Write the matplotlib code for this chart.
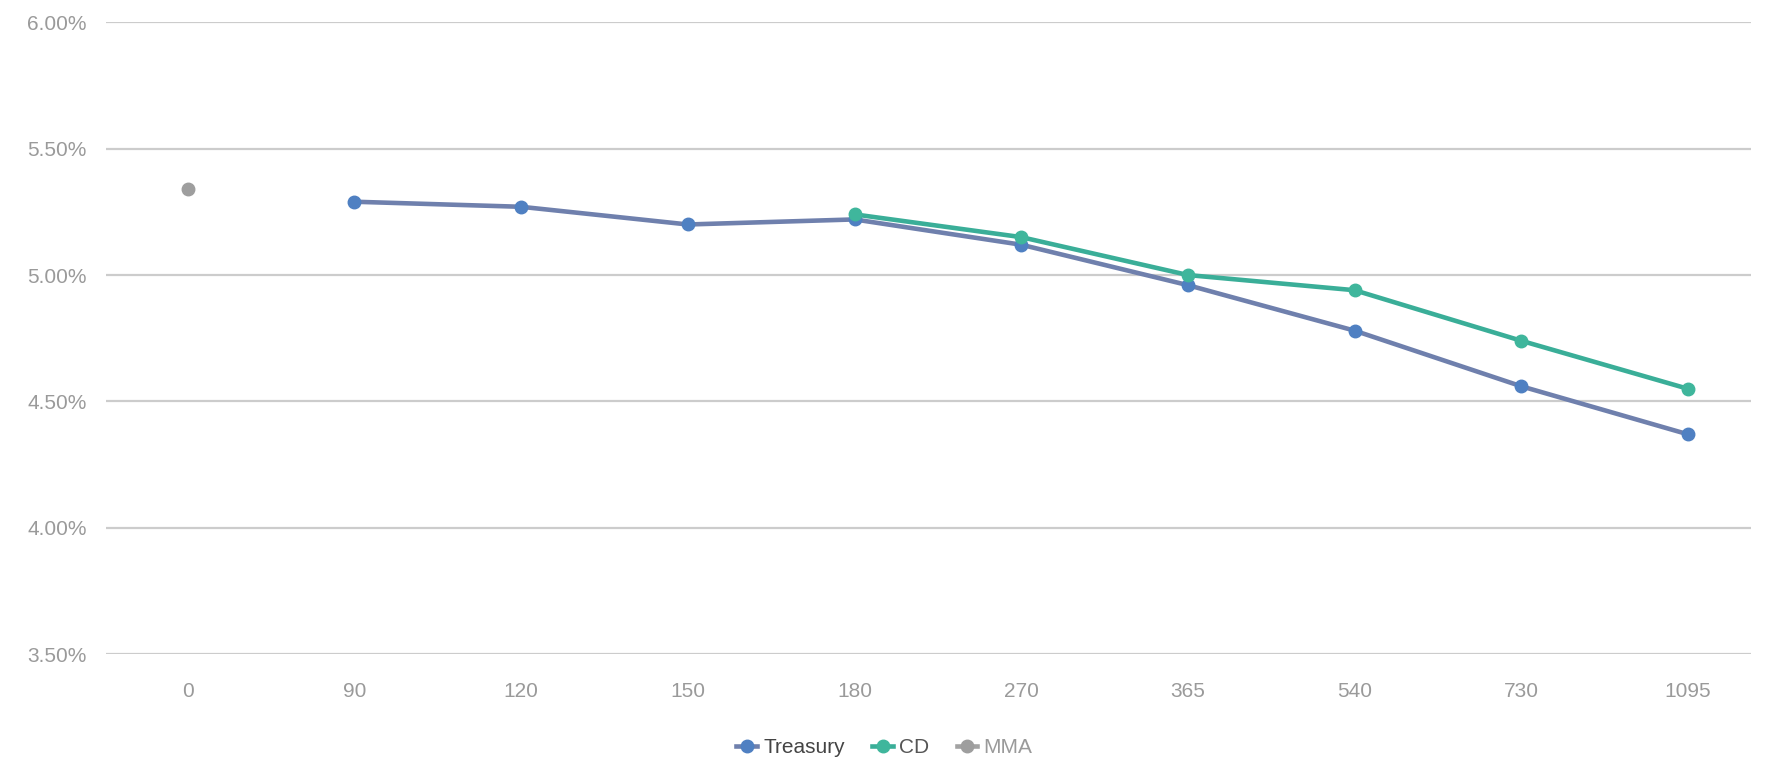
import numpy as np
import matplotlib
matplotlib.use("Agg")
import matplotlib.pyplot as plt
from matplotlib.lines import Line2D
from matplotlib.ticker import FuncFormatter

plt.rcParams['font.family'] = ['Liberation Sans', 'DejaVu Sans']

days = ["0", "90", "120", "150", "180", "270", "365", "540", "730", "1095"]
treasury = [np.nan, 5.29, 5.27, 5.20, 5.22, 5.12, 4.96, 4.78, 4.56, 4.37]
cd = [np.nan, np.nan, np.nan, np.nan, 5.24, 5.15, 5.00, 4.94, 4.74, 4.55]
mma = [5.34, np.nan, np.nan, np.nan, np.nan, np.nan, np.nan, np.nan, np.nan, np.nan]

colors = {
    "Treasury": ("#6f80ad", "#4f80c2"),
    "CD": ("#3aae98", "#3fb69c"),
    "MMA": ("#a3a3a3", "#9e9e9e"),
}

fig = plt.figure(figsize=(17.69, 7.67), dpi=100)
ax = fig.add_axes([0.06, 0.147, 0.93, 0.824])

x = np.arange(len(days))
for name, vals in (("Treasury", treasury), ("CD", cd), ("MMA", mma)):
    lc, mc = colors[name]
    ax.plot(x, vals, color=lc, linewidth=3.3, marker="o", markersize=9,
            markerfacecolor=mc, markeredgecolor=mc, zorder=3)

ax.set_ylim(3.5, 6.0)
ax.set_yticks([3.5, 4.0, 4.5, 5.0, 5.5, 6.0])
ax.yaxis.set_major_formatter(FuncFormatter(lambda v, p: "%.2f%%" % v))
ax.set_xlim(-0.49, 9.38)
ax.set_xticks(x)
ax.set_xticklabels(days)

ax.grid(axis="y", color="#cccccc", linewidth=1.6)
ax.set_axisbelow(True)
for s in ax.spines.values():
    s.set_visible(False)
ax.tick_params(length=0, labelsize=15, labelcolor="#9a9a9a")
ax.tick_params(axis="x", pad=20)
ax.tick_params(axis="y", pad=14)

handles = [Line2D([], [], color=colors[n][0], linewidth=3.3, marker="o",
                  markersize=9, markerfacecolor=colors[n][1],
                  markeredgecolor=colors[n][1]) for n in ("Treasury", "CD", "MMA")]
leg = fig.legend(handles, ["Treasury", "CD", "MMA"], loc="lower center",
                 bbox_to_anchor=(0.5, -0.012), ncol=3, frameon=False, fontsize=15,
                 handlelength=1.0, handletextpad=0.3, columnspacing=1.3)
for t, c in zip(leg.get_texts(), ["#444444", "#555555", "#9a9a9a"]):
    t.set_color(c)

plt.savefig("out.png", dpi=100)
